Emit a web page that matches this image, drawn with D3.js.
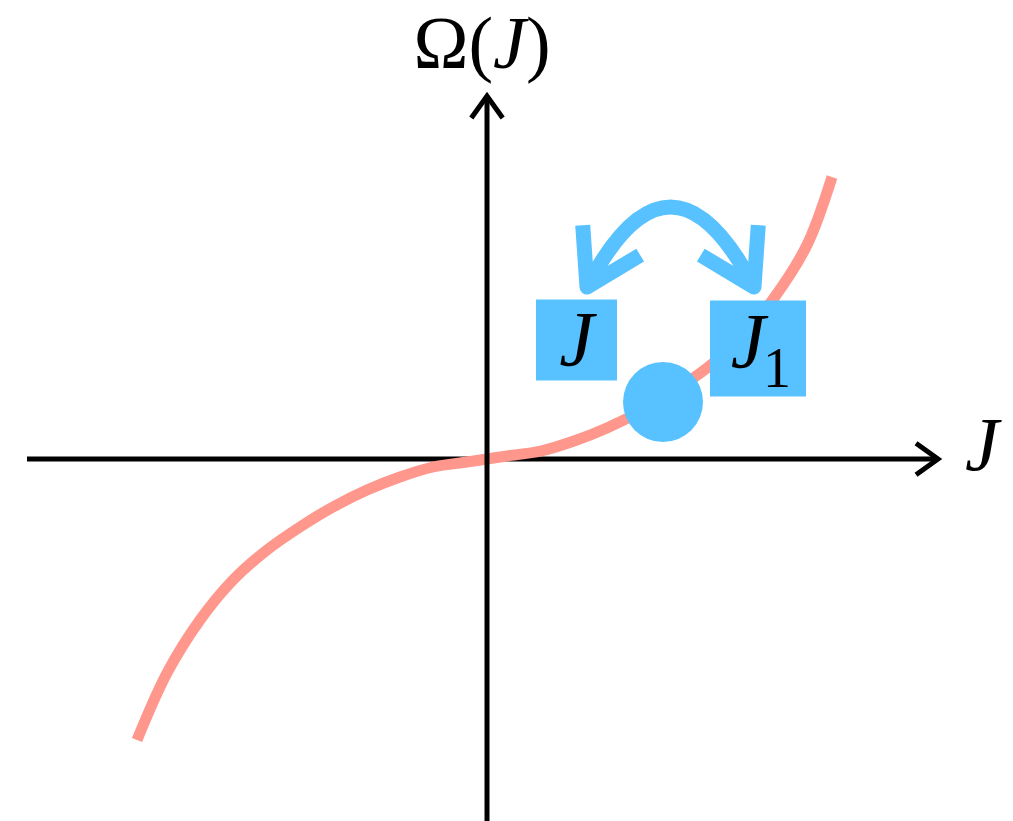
<!DOCTYPE html>
<html>
<head>
<meta charset="utf-8">
<script src="https://cdn.jsdelivr.net/npm/d3@7"></script>
<style>
  body { margin: 0; background: #fff; }
  svg { display: block; }
  text { font-family: "Liberation Serif", "DejaVu Serif", serif; fill: #000; }
</style>
</head>
<body>
<div class="container"></div>
<script>
// curve Omega(J) (1 unit = 100px)
var curveJ     = [-3.50, -3.20, -2.87, -2.54, -2.20, -1.87, -1.54, -1.20, -0.87, -0.54, -0.20, 0,
                   0.20, 0.54, 0.87, 1.20, 1.54, 1.87, 2.20, 2.54, 2.87, 3.20, 3.45];
var curveOmega = [-2.81, -2.14, -1.61, -1.21, -0.91, -0.68, -0.48, -0.31, -0.18, -0.08, -0.03, 0,
                   0.03, 0.08, 0.18, 0.31, 0.48, 0.68, 0.91, 1.21, 1.61, 2.14, 2.82];

// state on the curve and the two labelled boxes
var pointJ = [1.76], pointOmega = [0.57];
var boxNames = ["J", "J"];
var boxSubs = ["", "1"];
var boxJ = [0.895, 2.71];
var boxOmega = [1.19, 1.105];

// swap arrow between the boxes: start, control, end
var swapJ = [1.00, 1.835, 2.67];
var swapOmega = [1.72, 3.32, 1.72];

var axisJ = [-4.60, 4.51];
var axisOmega = [-3.62, 3.63];

var WIDTH = 1013, HEIGHT = 821;
var BLUE = "#58c1ff", SALMON = "#ff978c";

var xScale = d3.scaleLinear().domain([-4.87, 5.26]).range([0, WIDTH]);
var yScale = d3.scaleLinear().domain([-3.62, 4.59]).range([HEIGHT, 0]);

var svg = d3.select('.container').append('svg')
  .attr('width', WIDTH)
  .attr('height', HEIGHT);

var chevron = function(tip, angle, len, half) {
  // open arrow head: two wings going back from the tip
  var a1 = angle + Math.PI - half, a2 = angle + Math.PI + half;
  return "M" + (tip[0] + len * Math.cos(a1)) + "," + (tip[1] + len * Math.sin(a1)) +
         "L" + tip[0] + "," + tip[1] +
         "L" + (tip[0] + len * Math.cos(a2)) + "," + (tip[1] + len * Math.sin(a2));
}

var drawAxisLine = function(x1, y1, x2, y2) {
  svg.append('line')
    .attr('x1', x1).attr('y1', y1).attr('x2', x2).attr('y2', y2)
    .attr('stroke', '#000').attr('stroke-width', 5);
  var ang = Math.atan2(y2 - y1, x2 - x1);
  svg.append('path')
    .attr('d', chevron([x2, y2], ang, 27, 0.62))
    .attr('fill', 'none').attr('stroke', '#000').attr('stroke-width', 5)
    .attr('stroke-linejoin', 'miter');
}

// x axis first, the curve lies over it
drawAxisLine(xScale(axisJ[0]), yScale(0), xScale(axisJ[1]), yScale(0));

var line = d3.line()
  .curve(d3.curveCatmullRom)
  .x(function(d, i) { return xScale(curveJ[i]); })
  .y(function(d, i) { return yScale(curveOmega[i]); });

svg.append('path')
  .datum(curveJ)
  .attr('d', line)
  .attr('fill', 'none')
  .attr('stroke', SALMON)
  .attr('stroke-width', 11);

// y axis on top of the curve
drawAxisLine(xScale(0), yScale(axisOmega[0]), xScale(0), yScale(axisOmega[1]));

// state point
svg.selectAll('circle.state').data(pointJ).enter()
  .append('circle')
  .attr('class', 'state')
  .attr('cx', function(d) { return xScale(d); })
  .attr('cy', function(d, i) { return yScale(pointOmega[i]); })
  .attr('r', 40)
  .attr('fill', BLUE);

// boxes
var boxSize = [81, 96];
var boxes = svg.selectAll('g.box').data(boxNames).enter()
  .append('g')
  .attr('class', 'box')
  .attr('transform', function(d, i) {
    return 'translate(' + xScale(boxJ[i]) + ',' + yScale(boxOmega[i]) + ')';
  });

boxes.append('rect')
  .attr('x', function(d, i) { return -boxSize[i] / 2; })
  .attr('y', function(d, i) { return -boxSize[i] / 2; })
  .attr('width', function(d, i) { return boxSize[i]; })
  .attr('height', function(d, i) { return boxSize[i]; })
  .attr('fill', BLUE);

boxes.append('text')
  .attr('x', function(d, i) { return boxSubs[i] ? -10 : 0; })
  .attr('y', function(d, i) { return boxSubs[i] ? 18 : 25; })
  .attr('text-anchor', 'middle')
  .attr('font-size', 78)
  .attr('font-style', 'italic')
  .text(function(d) { return d; });

boxes.append('text')
  .attr('x', 19)
  .attr('y', 38)
  .attr('text-anchor', 'middle')
  .attr('font-size', 56)
  .text(function(d, i) { return boxSubs[i]; });

// swap arrow
var p0 = [xScale(swapJ[0]), yScale(swapOmega[0])];
var pc = [xScale(swapJ[1]), yScale(swapOmega[1])];
var p1 = [xScale(swapJ[2]), yScale(swapOmega[2])];
var arc = d3.path();
arc.moveTo(p0[0], p0[1]);
arc.quadraticCurveTo(pc[0], pc[1], p1[0], p1[1]);

svg.append('path')
  .attr('d', arc.toString())
  .attr('fill', 'none')
  .attr('stroke', BLUE)
  .attr('stroke-width', 15);

[[p0, Math.atan2(p0[1] - pc[1], p0[0] - pc[0])],
 [p1, Math.atan2(p1[1] - pc[1], p1[0] - pc[0])]].forEach(function(h) {
  svg.append('path')
    .attr('d', chevron(h[0], h[1], 62, 0.55))
    .attr('fill', 'none')
    .attr('stroke', BLUE)
    .attr('stroke-width', 15)
    .attr('stroke-linejoin', 'round');
});

// axis labels
var yLabel = svg.append('text')
  .attr('x', xScale(-0.05))
  .attr('y', 68)
  .attr('text-anchor', 'middle')
  .attr('font-size', 74);
yLabel.append('tspan').text('Ω(');
yLabel.append('tspan').attr('font-style', 'italic').text('J');
yLabel.append('tspan').text(')');

svg.append('text')
  .attr('x', 965)
  .attr('y', 470)
  .attr('font-size', 76)
  .attr('font-style', 'italic')
  .text('J');
</script>
</body>
</html>
